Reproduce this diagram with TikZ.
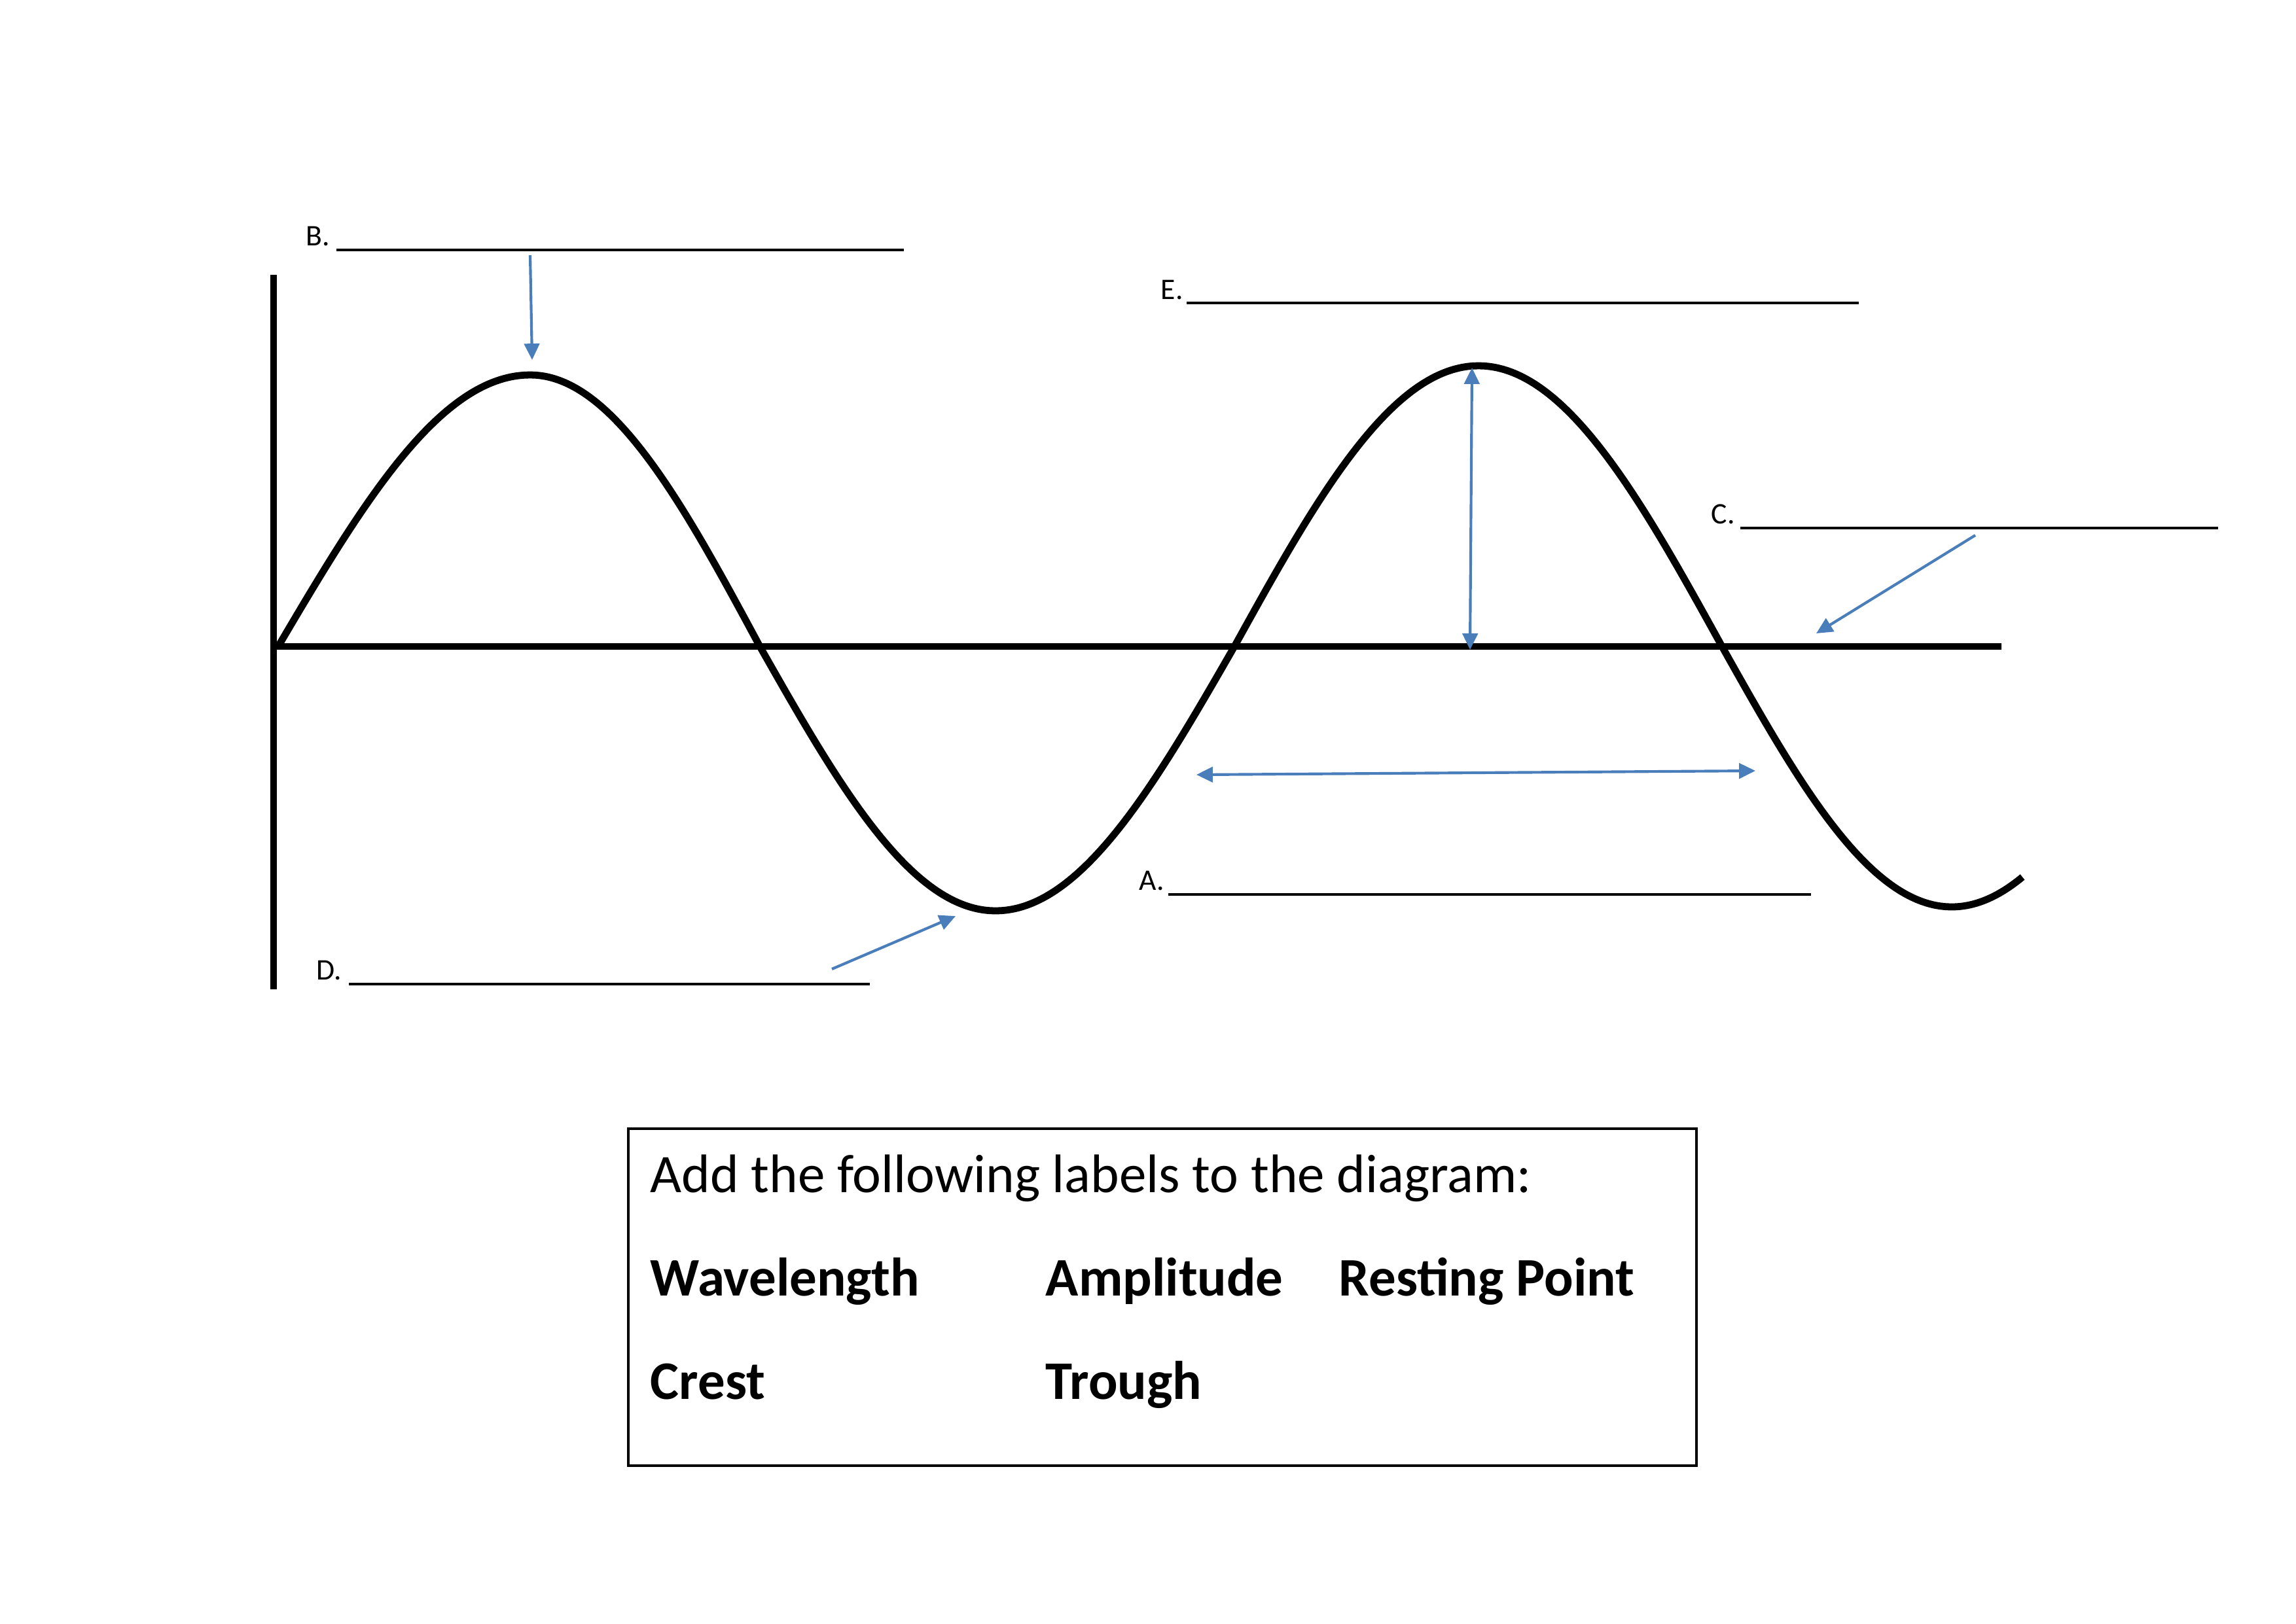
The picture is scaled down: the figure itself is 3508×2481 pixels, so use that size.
\documentclass[tikz,border=0pt]{standalone}
\usepackage{fontspec}
\setmainfont{Carlito}
\usetikzlibrary{arrows.meta}
\definecolor{arrowblue}{RGB}{74,126,187}
\begin{document}
\begin{tikzpicture}[x=0.0084667cm,y=-0.0084667cm,
  lbl/.style={font=\fontsize{11}{13}\selectfont, inner sep=0pt, anchor=base west},
  uline/.style={line width=0.8pt},
  bluearrow/.style={draw=arrowblue, line width=1pt, -{Triangle[length=6pt,width=5.6pt]}},
  bluedouble/.style={draw=arrowblue, line width=1pt, {Triangle[length=6pt,width=5.6pt]}-{Triangle[length=6pt,width=5.6pt]}},
  waveline/.style={line width=2.6pt, black},
  boxtext/.style={font=\fontsize{20}{24}\selectfont, inner sep=0pt, anchor=base west},
  boldtext/.style={font=\fontsize{20}{24}\selectfont\bfseries, inner sep=0pt, anchor=base west}]
\useasboundingbox (0,0) rectangle (3508,2481);

% axes
\coordinate (vtop) at (418,420);
\coordinate (vbot) at (418,1512);
\coordinate (hleft) at (418,988);
\coordinate (hright) at (3058,988);
\draw[waveline] (vtop) -- (vbot);
\draw[waveline] (hleft) -- (hright);

% wave (quarter by quarter)
\draw[waveline, line join=round]
  plot[domain=425:810, samples=40, smooth] (\x, {988 - 415*sin(90*((\x-425)/385))})
  -- plot[domain=810:1161, samples=40, smooth] (\x, {988 - 415*sin(90 + 90*((\x-810)/351))})
  -- plot[domain=1161:1521, samples=40, smooth] (\x, {988 - 404*sin(180 + 90*((\x-1161)/360))})
  -- plot[domain=1521:1886, samples=40, smooth] (\x, {988 - 404*sin(270 + 90*((\x-1521)/365))})
  -- plot[domain=1886:2259, samples=40, smooth] (\x, {988 - 429*sin(360 + 90*((\x-1886)/373))})
  -- plot[domain=2259:2631, samples=40, smooth] (\x, {988 - 429*sin(450 + 90*((\x-2259)/372))})
  -- plot[domain=2631:2982, samples=40, smooth] (\x, {988 - 398*sin(540 + 90*((\x-2631)/351))})
  -- plot[domain=2982:3090, samples=15, smooth] (\x, {988 - 398*sin(630 + 90*((\x-2982)/351))});

% label B
\node[lbl] (Blbl) at (467,375) {B.};
\draw[uline] (514,382) -- (1381,382);
\coordinate (Bs) at (810,390);
\coordinate (Bt) at (813,550);
\draw[bluearrow] (Bs) -- (Bt);

% label E and amplitude arrow
\node[lbl] (Elbl) at (1773,457) {E.};
\draw[uline] (1813,463) -- (2840,463);
\coordinate (ampTop) at (2249,562);
\coordinate (ampBot) at (2246,993);
\draw[bluedouble] (ampBot) -- (ampTop);

% label C
\node[lbl] (Clbl) at (2614,800) {C.};
\draw[uline] (2659,807) -- (3389,807);
\coordinate (Cs) at (3018,818);
\coordinate (Ct) at (2775,968);
\draw[bluearrow] (Cs) -- (Ct);

% wavelength arrow and label A
\coordinate (wlL) at (1828,1184);
\coordinate (wlR) at (2682,1178);
\draw[bluedouble] (wlL) -- (wlR);
\node[lbl] (Albl) at (1740,1360) {A.};
\draw[uline] (1785,1367) -- (2767,1367);

% label D
\node[lbl] (Dlbl) at (483,1497) {D.};
\draw[uline] (533,1504) -- (1329,1504);
\coordinate (Ds) at (1271,1481);
\coordinate (Dt) at (1460,1400);
\draw[bluearrow] (Ds) -- (Dt);

% box
\draw[line width=0.8pt] (960,1725) rectangle (2592,2240);
\node[boxtext] (instr) at (993,1822) {Add the following labels to the diagram:};
\node[boldtext] (wl) at (993,1980) {Wavelength};
\node[boldtext] (amp) at (1597,1980) {Amplitude};
\node[boldtext] (rp) at (2045,1980) {Resting Point};
\node[boldtext] (cr) at (993,2138) {Crest};
\node[boldtext] (tr) at (1597,2138) {Trough};
\end{tikzpicture}
\end{document}
